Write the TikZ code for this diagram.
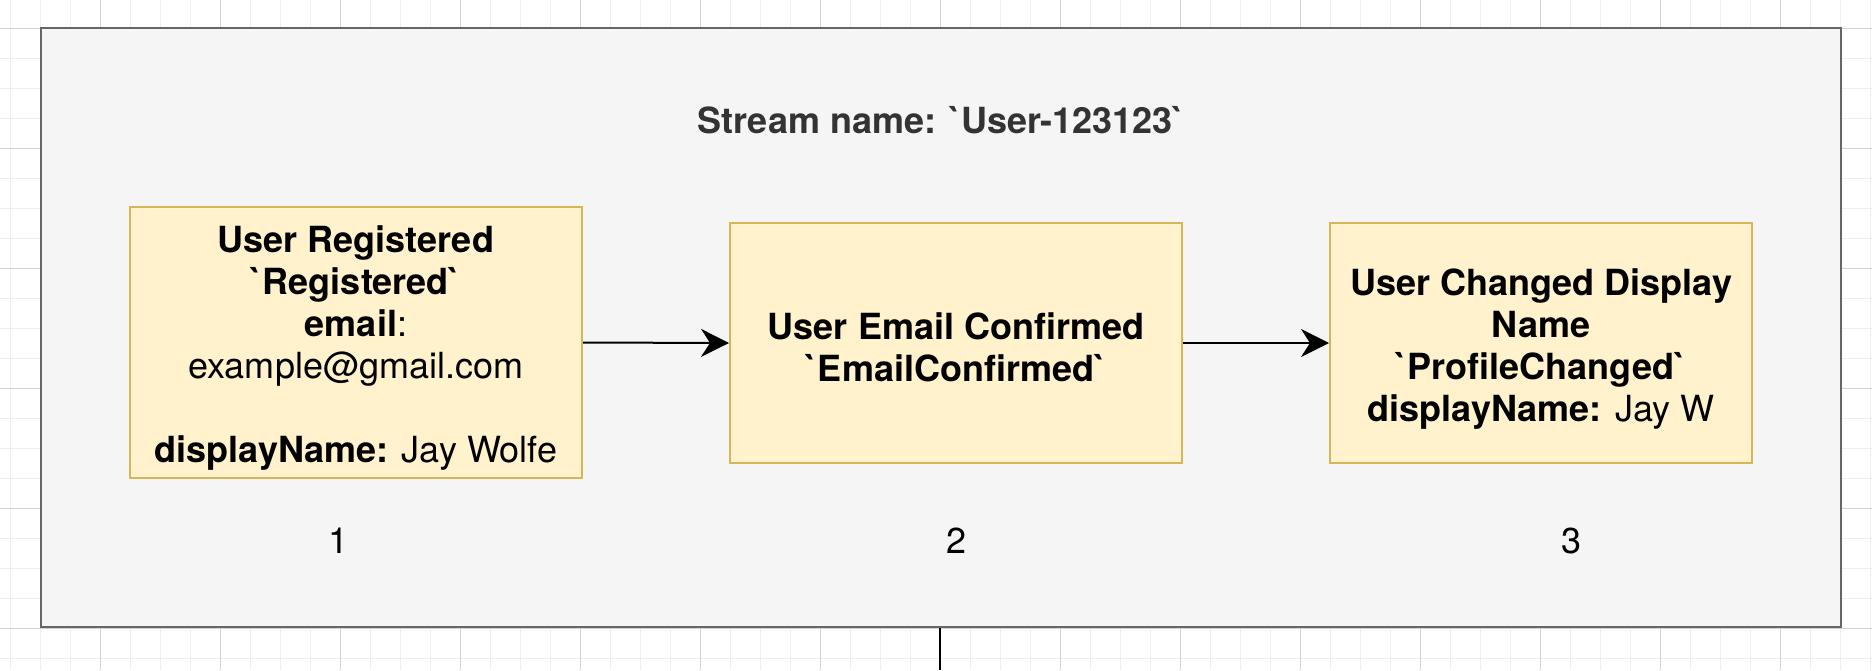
\documentclass[tikz,border=0pt]{standalone}
\usepackage{fontspec}
\newfontfamily\hv{TeX Gyre Heros}
\usetikzlibrary{arrows.meta}
\definecolor{gridminor}{HTML}{EFEFEF}
\definecolor{gridmajor}{HTML}{D4D4D4}
\definecolor{outerfill}{HTML}{F5F5F5}
\definecolor{outerline}{HTML}{666666}
\definecolor{titletext}{HTML}{333333}
\definecolor{evfill}{HTML}{FFF2CC}
\definecolor{evline}{HTML}{D6B656}
\tikzset{
  basefont/.style={font=\hv\fontsize{18}{21}\selectfont},
  eventbox/.style={draw=evline, fill=evfill, line width=1pt, inner sep=0pt},
  evtext/.style={align=center, inner sep=0pt, basefont},
  streambox/.style={draw=outerline, fill=outerfill, line width=1.25pt},
  flow/.style={draw=black, line width=1pt, -{Stealth[length=14pt, width=14pt, inset=4.5pt]}},
  numlabel/.style={anchor=base, basefont},
}
\begin{document}
\begin{tikzpicture}[x=0.5pt, y=-0.5pt]
\useasboundingbox (0,0) rectangle (1872,670);
\fill[white] (0,0) rectangle (1872,670);
% grid
\foreach \gx in {10,40,...,1870} \draw[gridminor, line width=0.5pt] (\gx,0) -- (\gx,670);
\foreach \gy in {28,58,...,670} \draw[gridminor, line width=0.5pt] (0,\gy) -- (1872,\gy);
\foreach \gx in {100,220,...,1870} \draw[gridmajor, line width=0.5pt] (\gx,0) -- (\gx,670);
\foreach \gy in {28,148,...,670} \draw[gridmajor, line width=0.5pt] (0,\gy) -- (1872,\gy);
% stream container
\node[streambox, minimum width=900pt, minimum height=299.5pt, inner sep=0pt] (stream) at (941,327.5) {};
\node[anchor=base, text=titletext, font=\hv\bfseries\fontsize{18}{21}\selectfont] (title) at (941,133) {Stream name: `User-123123`};
% events
\node[eventbox, minimum width=226pt, minimum height=135.5pt] (ev1) at (356,342.5) {};
\node[evtext] (ev1t) at ([yshift=-3pt]ev1.center)
  {\textbf{User Registered}\\ \textbf{`Registered`}\\ \textbf{email}:\\ example@gmail.com\\[21pt] \textbf{displayName:} Jay Wolfe};
\node[eventbox, minimum width=226pt, minimum height=120pt] (ev2) at (956,343) {};
\node[evtext] (ev2t) at ([yshift=-2pt]ev2.center)
  {\textbf{User Email Confirmed}\\ \textbf{`EmailConfirmed`}};
\node[eventbox, minimum width=211pt, minimum height=120pt] (ev3) at (1541,343) {};
\node[evtext] (ev3t) at ([yshift=-3pt]ev3.center)
  {\textbf{User Changed Display}\\ \textbf{Name}\\ \textbf{`ProfileChanged`}\\ \textbf{displayName:} Jay W};
% arrows
\draw[flow] (ev1.east) -- (ev2.west);
\draw[flow] (ev2.east) -- (ev3.west);
% numbers
\node[numlabel] (n1) at (339,553) {1};
\node[numlabel] (n2) at (956,553) {2};
\node[numlabel] (n3) at (1571,553) {3};
% outgoing line
\coordinate (bot) at (940,670);
\draw[black, line width=1pt] (bot |- stream.south) -- (bot);
\end{tikzpicture}
\end{document}
